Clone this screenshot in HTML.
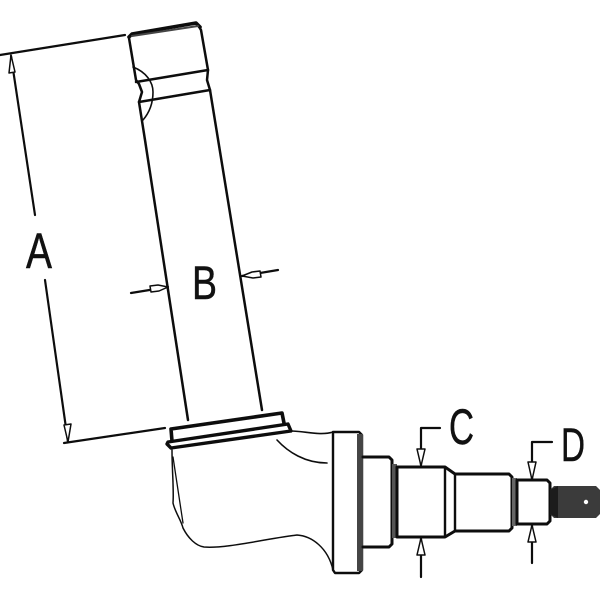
<!DOCTYPE html>
<html><head><meta charset="utf-8"><style>
html,body{margin:0;padding:0;background:#fff;width:600px;height:600px;overflow:hidden}
svg{display:block}
text{font-family:"Liberation Sans",sans-serif;fill:#111;stroke:#111;stroke-width:0.5px}
</style></head><body>
<svg width="600" height="600" viewBox="0 0 600 600" xmlns="http://www.w3.org/2000/svg">
<defs><filter id="b" x="-5%" y="-5%" width="110%" height="110%"><feGaussianBlur stdDeviation="0.35"/></filter></defs>
<rect width="600" height="600" fill="#fff"/>
<g filter="url(#b)" fill="none" stroke="#111" stroke-linejoin="round" stroke-linecap="round">
<!-- top of kingpin -->
<path stroke-width="2.5" d="M129 38 L136 80 L139 84 L142 92 L139 102 L145 140 L188 420"/>
<path stroke-width="2.5" d="M198 25 L201 30 L208 70 L207 80 L210 90 L262 410"/>
<path stroke-width="3.6" d="M129 37 L132 34 L196 23 L200 27"/>
<path stroke-width="2" stroke="#444" d="M132 36 L198 26"/>
<path stroke-width="2.5" d="M136 82 L208 70 M139 102 L210 90"/>
<path stroke-width="1.6" d="M133 67 C146 72 153 82 153 92 C153 104 149 113 143 120"/>
<!-- collar -->
<path stroke-width="3.6" d="M171 429 L282 413 L284 423 M171 429 L172 441"/>
<path stroke-width="3.4" d="M168 442 L288 424 L291 431 L171 448 L167 444 Z"/>
<!-- body -->
<path stroke-width="1.6" d="M291 431 C305 431 320 436 333 432"/>
<path stroke-width="1.6" d="M277 440 C288 452 305 463 327 463"/>
<path stroke-width="1.5" d="M172 450 C172 470 174 490 173 503 C175 512 181 520 183 528 C188 538 196 546 204 547 C225 549 270 538 297 535 C312 536 328 548 333 570"/>
<path stroke-width="1.3" d="M173 457 L183 523"/>
<!-- flange -->
<path stroke-width="2.4" d="M333 432 L359 432 L362 435 L362 570 L359 573 L335 573 L333 570 Z"/>
<rect x="357" y="434" width="6" height="137" fill="#444" stroke="none"/>
<!-- spindle -->
<path stroke-width="3" d="M363 457 L389 457 L392 460 L392 544 L389 547 L363 547"/>
<rect x="392" y="464" width="5" height="74" fill="#555" stroke="none"/>
<path stroke-width="3" d="M397 467 L445 467 L455 474 L509 474 L512 477 L512 528 L509 531 L455 531 L445 537 L397 537 Z"/>
<path stroke-width="2.4" d="M445 467 L445 537 M455 474 L455 531"/>
<rect x="512" y="478" width="5" height="48" fill="#666" stroke="none"/>
<path stroke-width="3" d="M517 480 L547 480 L550 483 L550 521 L547 524 L517 524 Z"/>
<path d="M550 490 L554 486 L596 486 L600 490 L600 514 L596 518 L554 518 L550 514 Z" fill="#3a3a3a" stroke="none"/>
<path d="M550 490 L558 486 L558 518 L550 514 Z" fill="#1a1a1a" stroke="none"/>
<circle cx="586" cy="502" r="2.2" fill="#fff" stroke="none"/>
<!-- dimension A -->
<g stroke-width="2.2">
<path d="M0 55 L125 35 M64 443 L165 428"/>
<path d="M11 56 L35 215 M45 280 L68 442"/>
</g>
<path stroke-width="1.5" fill="#fff" d="M11 55 L15 72 L9 73 Z M68 442 L71 424 L64 425 Z"/>
<!-- dimension B -->
<path stroke-width="2.2" d="M131 293 L168 287 M242 276 L278 270"/>
<path stroke-width="1.5" fill="#fff" d="M168 287 L158 285 L150 286 L151 292 L159 291 Z M242 276 L252 272 L260 271 L261 277 L253 278 Z"/>
<!-- dimension C -->
<path stroke-width="2.2" d="M440 428 L421 428 L421 465 M421 538 L421 577"/>
<path stroke-width="1.5" fill="#fff" d="M421 466 L417 449 L425 449 Z M421 538 L425 555 L417 555 Z"/>
<!-- dimension D -->
<path stroke-width="2.2" d="M552 442 L532 442 L532 480 M532 524 L532 563"/>
<path stroke-width="1.5" fill="#fff" d="M532 480 L528 462 L536 462 Z M532 525 L536 542 L528 542 Z"/>
</g>
<text x="26" y="268" font-size="50" textLength="26" lengthAdjust="spacingAndGlyphs">A</text>
<text x="192" y="299" font-size="47" textLength="25" lengthAdjust="spacingAndGlyphs">B</text>
<text x="449" y="444" font-size="50" textLength="25" lengthAdjust="spacingAndGlyphs">C</text>
<text x="561" y="461" font-size="47" textLength="24" lengthAdjust="spacingAndGlyphs">D</text>
</svg>
</body></html>
